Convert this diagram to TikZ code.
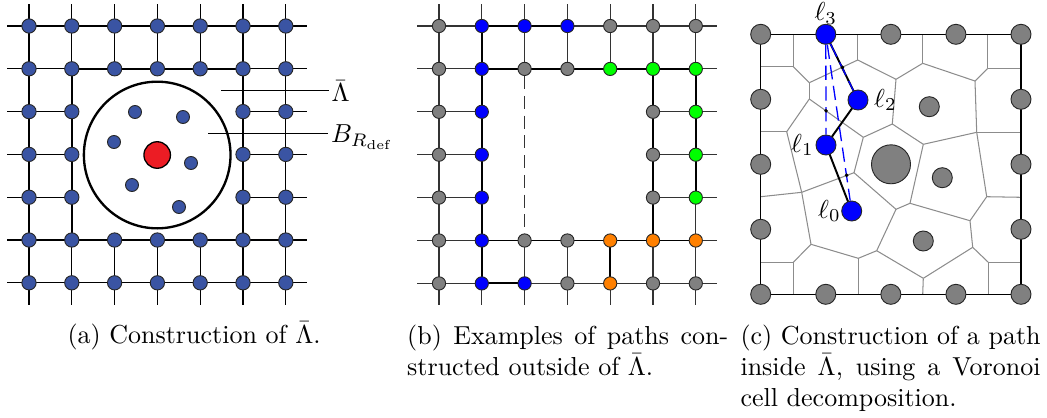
\documentclass[tikz,border=0pt]{standalone}
\usepackage{amsmath,amssymb}
\usetikzlibrary{positioning,backgrounds}
\definecolor{siteblue}{RGB}{58,84,163}
\definecolor{defred}{RGB}{236,28,36}
\definecolor{ptgray}{RGB}{128,128,128}
\definecolor{ptblue}{RGB}{0,0,255}
\definecolor{ptgreen}{RGB}{0,255,0}
\definecolor{ptorange}{RGB}{255,128,0}
\definecolor{cellgray}{RGB}{140,140,140}
\tikzset{
  site/.style={draw=black!85, circle, inner sep=0pt, minimum size=5.5pt, fill=siteblue, line width=0.35pt},
  defect/.style={draw=black, circle, inner sep=0pt, minimum size=10.2pt, fill=defred, line width=0.5pt},
  vertex/.style={draw=black!85, circle, inner sep=0pt, minimum size=5.1pt, fill=ptgray, line width=0.35pt},
  cellsite/.style={draw=black!85, circle, inner sep=0pt, minimum size=7.7pt, fill=ptgray, line width=0.35pt},
  gridline/.style={line width=0.45pt},
  latline/.style={line width=0.4pt, black!80},
  bdry/.style={line width=0.9pt},
  bdrytwo/.style={line width=0.55pt},
  pathline/.style={line width=0.75pt},
  celledge/.style={line width=0.4pt, cellgray},
  cframe/.style={line width=0.45pt},
  shortcut/.style={line width=0.5pt, ptblue, dash pattern=on 5.5pt off 2.5pt},
  hit/.style={circle, fill=black, inner sep=0pt, minimum size=1.5pt},
  lbl/.style={inner sep=0.5pt},
  captext/.style={inner sep=0pt}
}

\begin{document}
\begin{tikzpicture}[x=0.3846pt, y=-0.3846pt]
  \useasboundingbox (0,0) rectangle (1047,417);

  % (a) lattice with the defect ball
  \foreach \i in {0,...,6}{
    \coordinate (aT\i) at ({29+42.8*\i},4);
    \coordinate (aB\i) at ({29+42.8*\i},305);
    \coordinate (aL\i) at (7,{26+42.8*\i});
    \coordinate (aR\i) at (307,{26+42.8*\i});
    \foreach \j in {0,...,6}{
      \pgfmathtruncatemacro\hole{and(and(\i>1,\i<5),and(\j>1,\j<5))}
      \ifnum\hole=0 \node[site] (a\i\j) at ({29+42.8*\i},{26+42.8*\j}) {}; \fi
    }
  }
  \begin{scope}[on background layer]
    \foreach \k in {0,1,5,6}
      \draw[gridline] (aL\k) -- (aR\k) (aT\k) -- (aB\k);
    \foreach \k in {2,3,4}
      \draw[gridline] (aL\k) -- (a1\k.center) (a5\k.center) -- (aR\k)
        (aT\k) -- (a\k1.center) (a\k5.center) -- (aB\k);
    \draw[bdry] (a11.center) rectangle (a55.center);
  \end{scope}
  \coordinate (actr) at (157.2,155);
  \draw[bdry] (actr) circle[radius=28.2pt];
  \foreach \x/\y [count=\n] in {135/112,183/117,114/142,191/163,132/185,179/207}
    \node[site, minimum size=5pt] (in\n) at (\x,\y) {};
  \node[defect] (def) at (actr) {};
  \coordinate (lamtip) at (221,90.7);
  \coordinate (baltip) at (208,133.3);
  \node[lbl, inner sep=1pt, anchor=base west] (lamlbl) at (328.5,101.7) {$\bar{\Lambda}$};
  \node[lbl, inner sep=1pt, anchor=base west] (ballbl) at (328,142.7) {$B_{R_{\mathrm{def}}}$};
  \draw[line width=0.4pt] (lamtip) -- (lamtip -| lamlbl.west);
  \draw[line width=0.4pt] (baltip) -- (baltip -| ballbl.west);

  % (b) paths outside
  \foreach \i in {0,...,6}{
    \coordinate (bT\i) at ({439+42.8*\i},4);
    \coordinate (bB\i) at ({439+42.8*\i},305);
    \coordinate (bL\i) at (417.3,{26+42.9*\i});
    \coordinate (bR\i) at (716.7,{26+42.9*\i});
    \foreach \j in {0,...,6}
      \coordinate (bp\i\j) at ({439+42.8*\i},{26+42.9*\j});
  }
  \foreach \i/\j in {0/0,4/0,5/0,6/0,0/1,2/1,3/1,0/2,5/2,0/3,5/3,0/4,5/4,0/5,2/5,3/5,0/6,3/6,5/6,6/6}
    \node[vertex] (b\i\j) at (bp\i\j) {};
  \foreach \i/\j in {1/0,2/0,3/0,1/1,1/2,1/3,1/4,1/5,1/6,2/6}
    \node[vertex, fill=ptblue] (b\i\j) at (bp\i\j) {};
  \foreach \i/\j in {4/1,5/1,6/1,6/2,6/3,6/4}
    \node[vertex, fill=ptgreen] (b\i\j) at (bp\i\j) {};
  \foreach \i/\j in {4/5,5/5,6/5,4/6}
    \node[vertex, fill=ptorange] (b\i\j) at (bp\i\j) {};
  \begin{scope}[on background layer]
    \foreach \k in {0,1,5,6}
      \draw[latline] (bL\k) -- (bR\k) (bT\k) -- (bB\k);
    \foreach \k in {2,3,4}
      \draw[latline] (bL\k) -- (b1\k.center) (b5\k.center) -- (bR\k)
        (bT\k) -- (b\k1.center) (b\k5.center) -- (bB\k);
    \draw[latline, dash pattern=on 5pt off 2.6pt] (b21) -- (b25);
    \draw[bdrytwo] (b11.center) rectangle (b55.center);
    \draw[pathline] (b30.center) -- (b10.center) -- (b16.center) -- (b26.center);
    \draw[pathline] (b41.center) -- (b61.center) -- (b64.center);
    \draw[pathline] (b65.center) -- (b45.center) -- (b46.center);
  \end{scope}

  % (c) Voronoi cells
  \foreach \k/\m in {0/0,2/0,3/0,4/0,0/1,4/1,0/2,4/2,0/3,4/3,0/4,1/4,2/4,3/4,4/4}
    \node[cellsite] (g\k\m) at ({760.7+65.07*\k},{34.3+65*\m}) {};
  \node[cellsite, fill=ptblue] (ell3) at (825.8,34.3) {};
  \node[cellsite, fill=ptblue] (ell2) at (858,100) {};
  \node[cellsite, fill=ptblue] (ell1) at (826,145) {};
  \node[cellsite, fill=ptblue] (ell0) at (851.7,211) {};
  \node[cellsite] (h1) at (929.3,106.7) {};
  \node[cellsite, minimum size=15pt] (h0) at (891,164.3) {};
  \node[cellsite] (h2) at (942.3,177.7) {};
  \node[cellsite] (h3) at (923.3,241) {};
  \node[lbl, above=-1pt of ell3] (lab3) {$\ell_3$};
  \node[lbl, right=1.5pt of ell2] (lab2) {$\ell_2$};
  \node[lbl, left=0pt of ell1] (lab1) {$\ell_1$};
  \node[lbl, left=-0.5pt of ell0] (lab0) {$\ell_0$};
  \foreach \n/\x/\y in {1/793.3/66.7,2/809.3/82.7,3/857.7/60,4/809.3/99,5/786.7/131.7,
      6/863.3/137.3,7/896/79.3,8/922.7/63.3,9/975/81,10/987.7/68.3,11/976.7/132.3,
      12/892.3/124,13/923.3/144.3,14/910/203.3,15/854/172.7,16/801.7/192.3,
      17/896/209.3,18/986.7/196.7,19/970/220.7,20/972.7/247.3,21/988.3/262.3,
      22/923.3/278.3,23/876.7/250.7,24/858.3/258.3,25/811/244.3,26/793.3/262.3}
    \coordinate (v\n) at (\x,\y);
  \foreach \n/\x in {1/793.3,2/857.7,3/922.7,4/987.7}
    \coordinate (tp\n) at (\x,34.3);
  \foreach \n/\x in {1/793.3,2/858.3,3/922.7,4/988.3}
    \coordinate (bt\n) at (\x,294.3);
  \foreach \n/\y in {1/66.7,2/131.7,3/196.7,4/262.3}
    \coordinate (lf\n) at (760.7,\y);
  \foreach \n/\y in {1/68.3,2/132.3,3/197.3,4/262.3}
    \coordinate (rt\n) at (1021,\y);
  \begin{scope}[on background layer]
    \foreach \p/\q in {v1/tp1,v1/lf1,v1/v2,v2/v3,v2/v4,v4/v5,v4/v6,v3/tp2,v3/v7,
        v7/v8,v7/v12,v8/tp3,v8/v9,v9/v10,v10/tp4,v10/rt1,v9/v11,v11/rt2,v11/v13,
        v11/v18,v12/v6,v12/v13,v13/v14,v6/v15,v15/v16,v15/v17,v5/lf2,v5/v16,
        v16/lf3,v16/v25,v17/v14,v17/v23,v14/v19,v19/v18,v18/rt3,v19/v20,v20/v21,
        v20/v22,v22/v23,v22/bt3,v23/v24,v24/v25,v24/bt2,v25/v26,v26/lf4,v26/bt1,
        v21/rt4,v21/bt4}
      \draw[celledge] (\p) -- (\q);
    \draw[cframe] (g00.center) rectangle (g44.center);
    \draw[pathline] (ell0.center) -- (ell1.center) -- (ell2.center) -- (ell3.center);
    \draw[shortcut] (ell3) -- (ell2);
    \draw[shortcut] (ell3) -- (ell1);
    \draw[shortcut] (ell3) -- (ell0);
    \node[hit] (x1) at (842.4,67.3) {};
    \node[hit] (x2) at (826,110.8) {};
    \node[hit] (x3) at (846.6,175.2) {};
  \end{scope}

  % captions
  \node[captext, anchor=base west] (capa) at (67,343.5) {(a) Construction of $\bar{\Lambda}$.};
  \node[captext, anchor=base west] (capb1) at (406.7,344) {\makebox[123.5pt][s]{(b) Examples of paths con-}};
  \node[captext, anchor=base west] (capb2) at ([yshift=-12pt]capb1.base west) {structed outside of $\bar{\Lambda}$.};
  \node[captext, anchor=base west] (capc1) at (740,344) {\makebox[115.4pt][s]{(c) Construction of a path}};
  \node[captext, anchor=base west] (capc2) at ([yshift=-12pt]capc1.base west) {\makebox[115.4pt][s]{inside $\bar{\Lambda}$, using a Voronoi}};
  \node[captext, anchor=base west] (capc3) at ([yshift=-12pt]capc2.base west) {cell decomposition.};
\end{tikzpicture}
\end{document}
